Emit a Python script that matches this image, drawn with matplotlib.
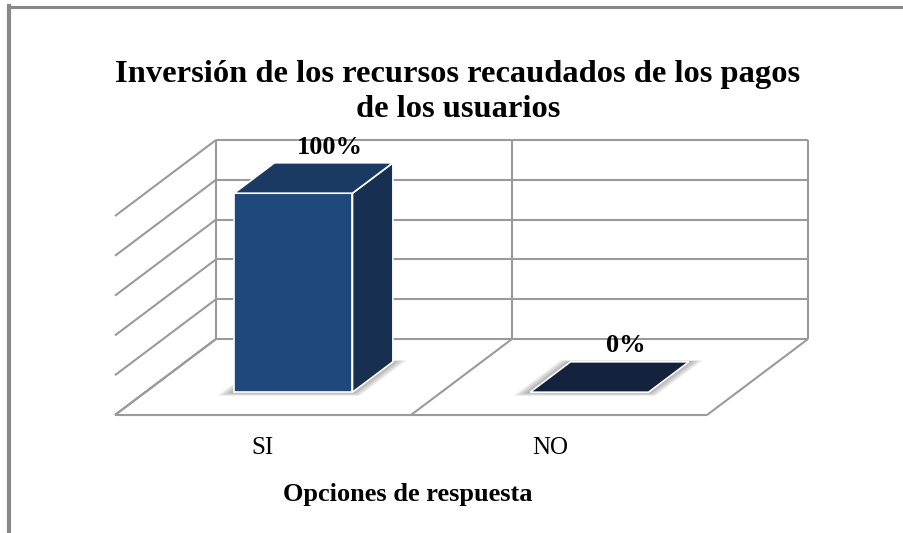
import matplotlib
matplotlib.use("Agg")
import matplotlib.pyplot as plt
from matplotlib.patches import Polygon
from matplotlib.lines import Line2D

categories = ["SI", "NO"]
values = [100, 0]
value_labels = ["100%", "0%"]
grid_values = [0, 20, 40, 60, 80, 100]

title = "Inversión de los recursos recaudados de los pagos\nde los usuarios"
xlabel = "Opciones de respuesta"

plt.rcParams["font.family"] = ["Liberation Serif", "DejaVu Serif"]

W, H = 904, 533
fig = plt.figure(figsize=(W / 100, H / 100), dpi=100)
ax = fig.add_axes([0, 0, 1, 1])

# back wall: x=0 at px 216, 296 px per category; y=0 at py 339, 1.99 px per %
PX, PY = 296.0, 1.99
ax.set_xlim(-216 / PX, (W - 216) / PX)
ax.set_ylim(-(H - 339) / PY, 339 / PY)
ax.axis("off")

# depth vector from back wall to front edge of floor
DX, DY = -101 / PX, -76 / PY


def proj(x, y, t):
    return (x + t * DX, y + t * DY)


grid_kw = dict(color="#9a9a9a", lw=1.5, zorder=1, solid_capstyle="butt")
n = len(categories)
ymax = grid_values[-1]

# back wall
for g in grid_values:
    ax.plot([0, n], [g, g], **grid_kw)
for i in range(n + 1):
    ax.plot([i, i], [0, ymax], **grid_kw)
# left wall
for g in grid_values:
    p0, p1 = proj(0, g, 0), proj(0, g, 1)
    ax.plot([p0[0], p1[0]], [p0[1], p1[1]], **grid_kw)
# floor
for i in range(n + 1):
    p0, p1 = proj(i, 0, 0), proj(i, 0, 1)
    ax.plot([p0[0], p1[0]], [p0[1], p1[1]], **grid_kw)
p0, p1 = proj(0, 0, 1), proj(n, 0, 1)
ax.plot([p0[0], p1[0]], [p0[1], p1[1]], **grid_kw)

# bars
tf, tb = 0.7, 0.3
for i, v in enumerate(values):
    x0, x1 = i + 0.3, i + 0.7
    # soft shadow around the footprint
    for k in range(5):
        e = 0.008 * (5 - k)
        sh = [proj(x0 - e, 0, tf + e * 1.2), proj(x1 + e, 0, tf + e * 1.2),
              proj(x1 + e, 0, tb - e * 0.5), proj(x0 - e, 0, tb - e * 0.5)]
        ax.add_patch(Polygon(sh, closed=True, fc="black", ec="none", alpha=0.07, zorder=2))
    top = [proj(x0, v, tf), proj(x1, v, tf), proj(x1, v, tb), proj(x0, v, tb)]
    if v > 0:
        front = [proj(x0, 0, tf), proj(x1, 0, tf), proj(x1, v, tf), proj(x0, v, tf)]
        side = [proj(x1, 0, tf), proj(x1, 0, tb), proj(x1, v, tb), proj(x1, v, tf)]
        ax.add_patch(Polygon(front, closed=True, fc="#1F497D", ec="white", lw=1.2, zorder=3))
        ax.add_patch(Polygon(side, closed=True, fc="#172F50", ec="white", lw=1.2, zorder=3))
        ax.add_patch(Polygon(top, closed=True, fc="#1B3A63", ec="white", lw=1.2, zorder=3))
    else:
        ax.add_patch(Polygon(top, closed=True, fc="#13233D", ec="white", lw=1.2, zorder=3))
    lx, ly = proj(i + 0.5, v, 0.5)
    ax.annotate(value_labels[i], (lx, ly), xytext=(16, 31), textcoords="offset pixels",
                ha="center", va="center", fontsize=19, fontweight="bold", zorder=5)
    cx, cy = proj(i + 0.5, 0, 1)
    ax.annotate(categories[i], (cx, cy), xytext=(0 - 9 * i, -33), textcoords="offset pixels",
                ha="center", va="center", fontsize=18)

fig.text(458 / W, 1 - 92 / H, title, ha="center", va="center", fontsize=23.4,
         fontweight="bold", linespacing=1.3)
fig.text(408 / W, 1 - 495 / H, xlabel, ha="center", va="center", fontsize=19,
         fontweight="bold")

# frame lines
fig.add_artist(Line2D([8 / W, 1], [1 - 7 / H, 1 - 7 / H], transform=fig.transFigure,
                      color="#888888", lw=2.2))
fig.add_artist(Line2D([9 / W, 9 / W], [0, 1 - 6 / H], transform=fig.transFigure,
                      color="#888888", lw=3))

fig.savefig("out.png", dpi=100)
